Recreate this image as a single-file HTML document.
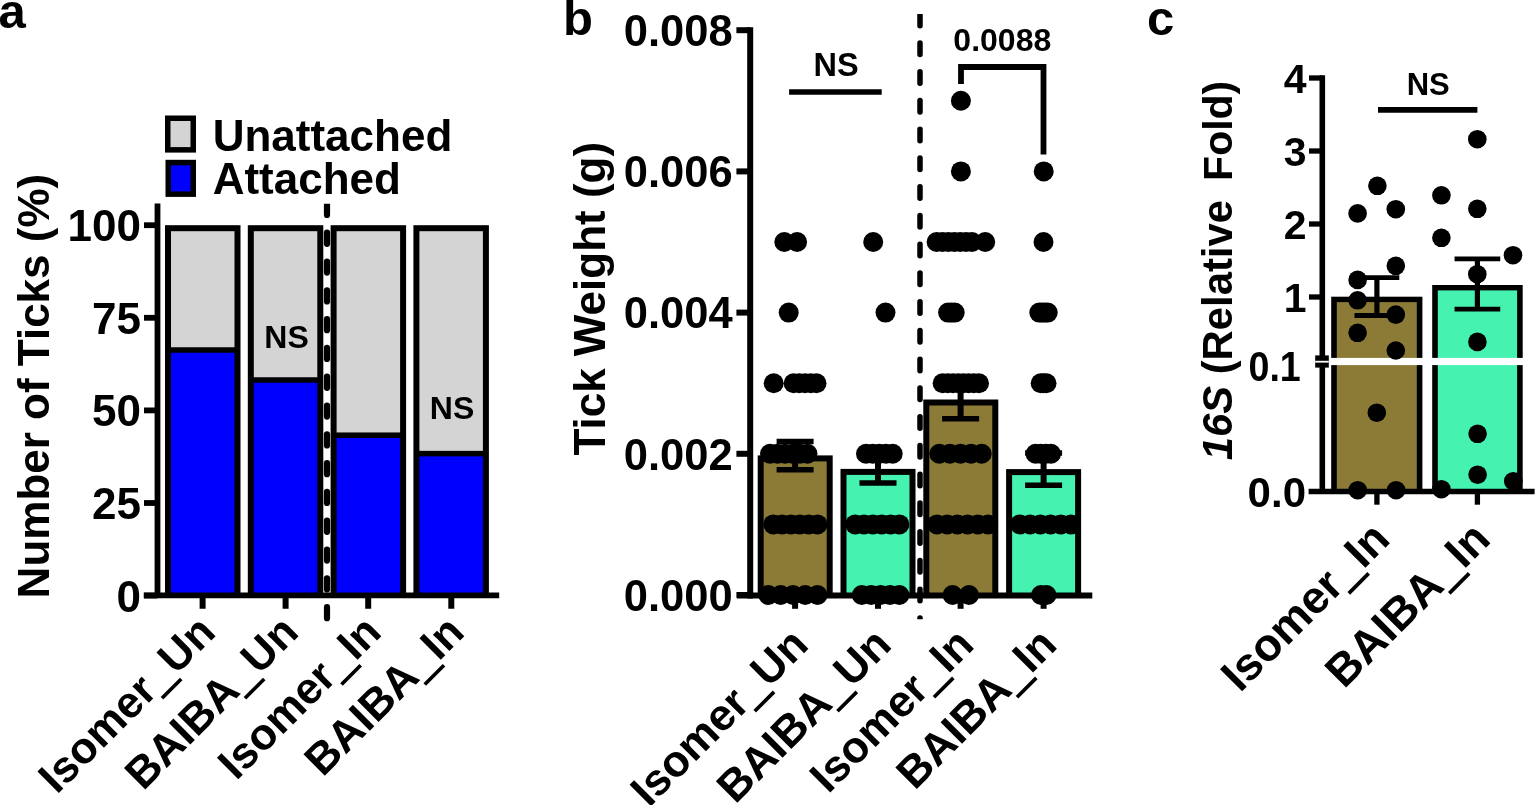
<!DOCTYPE html>
<html><head><meta charset="utf-8"><title>Figure</title>
<style>html,body{margin:0;padding:0;background:#fff;} svg{display:block;} text{fill:#000;}</style>
</head><body>
<svg width="1536" height="805" viewBox="0 0 1536 805" style="font-family:&quot;Liberation Sans&quot;,Arial,sans-serif;font-weight:bold">
<text x="-1.5" y="28" font-size="49" text-anchor="start" >a</text>
<rect x="167.75" y="118.25" width="25.5" height="31.6" fill="#d4d4d4" stroke="#000" stroke-width="5.5"/>
<rect x="168.25" y="162.55" width="25" height="31.6" fill="#0000ff" stroke="#000" stroke-width="5.5"/>
<text x="212.7" y="150.6" font-size="44" text-anchor="start" >Unattached</text>
<text x="212.7" y="194.4" font-size="44" text-anchor="start" >Attached</text>
<text transform="translate(49,598.4) rotate(-90)" font-size="44">Number of Ticks (%)</text>
<rect x="165.00" y="225.20" width="75.50" height="369.80" fill="#000"/>
<rect x="171.00" y="231.20" width="63.50" height="116.05" fill="#d4d4d4"/>
<rect x="171.00" y="352.75" width="63.50" height="242.25" fill="#0000ff"/>
<rect x="247.80" y="225.20" width="75.50" height="369.80" fill="#000"/>
<rect x="253.80" y="231.20" width="63.50" height="146.05" fill="#d4d4d4"/>
<rect x="253.80" y="382.75" width="63.50" height="212.25" fill="#0000ff"/>
<rect x="330.60" y="225.20" width="75.50" height="369.80" fill="#000"/>
<rect x="336.60" y="231.20" width="63.50" height="201.25" fill="#d4d4d4"/>
<rect x="336.60" y="437.95" width="63.50" height="157.05" fill="#0000ff"/>
<rect x="413.40" y="225.20" width="75.50" height="369.80" fill="#000"/>
<rect x="419.40" y="231.20" width="63.50" height="219.65" fill="#d4d4d4"/>
<rect x="419.40" y="456.35" width="63.50" height="138.65" fill="#0000ff"/>
<line x1="157.5" y1="203.5" x2="157.5" y2="598" stroke="#000" stroke-width="5.8" stroke-linecap="butt"/>
<line x1="144" y1="595.6" x2="157.5" y2="595.6" stroke="#000" stroke-width="5.8" stroke-linecap="butt"/>
<text x="141" y="611.6" font-size="44" text-anchor="end" >0</text>
<line x1="144" y1="503.0" x2="157.5" y2="503.0" stroke="#000" stroke-width="5.8" stroke-linecap="butt"/>
<text x="141" y="519.0" font-size="44" text-anchor="end" >25</text>
<line x1="144" y1="410.4" x2="157.5" y2="410.4" stroke="#000" stroke-width="5.8" stroke-linecap="butt"/>
<text x="141" y="426.4" font-size="44" text-anchor="end" >50</text>
<line x1="144" y1="317.8" x2="157.5" y2="317.8" stroke="#000" stroke-width="5.8" stroke-linecap="butt"/>
<text x="141" y="333.8" font-size="44" text-anchor="end" >75</text>
<line x1="144" y1="225.2" x2="157.5" y2="225.2" stroke="#000" stroke-width="5.8" stroke-linecap="butt"/>
<text x="141" y="241.2" font-size="44" text-anchor="end" >100</text>
<line x1="143.75" y1="595.3" x2="499.2" y2="595.3" stroke="#000" stroke-width="5.7" stroke-linecap="butt"/>
<line x1="202.6" y1="595" x2="202.6" y2="608.75" stroke="#000" stroke-width="6" stroke-linecap="butt"/>
<line x1="285.6" y1="595" x2="285.6" y2="608.75" stroke="#000" stroke-width="6" stroke-linecap="butt"/>
<line x1="368.2" y1="595" x2="368.2" y2="608.75" stroke="#000" stroke-width="6" stroke-linecap="butt"/>
<line x1="451.3" y1="595" x2="451.3" y2="608.75" stroke="#000" stroke-width="6" stroke-linecap="butt"/>
<text x="286.5" y="348.3" font-size="32" text-anchor="middle" >NS</text>
<text x="452" y="418.5" font-size="32" text-anchor="middle" >NS</text>
<clipPath id="ca"><rect x="300" y="203.7" width="60" height="430"/></clipPath>
<line x1="327" y1="203.9" x2="327" y2="618.2" stroke="#000" stroke-width="6.2" stroke-linecap="round" stroke-dasharray="11.1 17.7" clip-path="url(#ca)"/>
<text transform="translate(217.6,634.2) rotate(-45)" font-size="44" text-anchor="end">Isomer<tspan dy="1.5" stroke="#000" stroke-width="2">_</tspan><tspan dy="-1.5">Un</tspan></text>
<text transform="translate(300.6,634.2) rotate(-45)" font-size="44" text-anchor="end">BAIBA<tspan dy="1.5" stroke="#000" stroke-width="2">_</tspan><tspan dy="-1.5">Un</tspan></text>
<text transform="translate(383.2,634.2) rotate(-45)" font-size="44" text-anchor="end">Isomer<tspan dy="1.5" stroke="#000" stroke-width="2">_</tspan><tspan dy="-1.5">In</tspan></text>
<text transform="translate(466.3,634.2) rotate(-45)" font-size="44" text-anchor="end">BAIBA<tspan dy="1.5" stroke="#000" stroke-width="2">_</tspan><tspan dy="-1.5">In</tspan></text>
<text x="563" y="34.5" font-size="49" text-anchor="start" >b</text>
<text transform="translate(605.3,455.6) rotate(-90)" font-size="44">Tick Weight (g)</text>
<rect x="757.70" y="455.40" width="75.00" height="139.60" fill="#000"/>
<rect x="763.70" y="461.40" width="63.00" height="133.60" fill="#8b7b36"/>
<rect x="840.50" y="468.90" width="75.00" height="126.10" fill="#000"/>
<rect x="846.50" y="474.90" width="63.00" height="120.10" fill="#45f2b0"/>
<rect x="923.30" y="399.50" width="75.00" height="195.50" fill="#000"/>
<rect x="929.30" y="405.50" width="63.00" height="189.50" fill="#8b7b36"/>
<rect x="1006.10" y="469.10" width="75.00" height="125.90" fill="#000"/>
<rect x="1012.10" y="475.10" width="63.00" height="119.90" fill="#45f2b0"/>
<line x1="795.1" y1="441.4" x2="795.1" y2="469.85" stroke="#000" stroke-width="6" stroke-linecap="butt"/>
<line x1="776.6" y1="441.4" x2="813.6" y2="441.4" stroke="#000" stroke-width="5.5" stroke-linecap="butt"/>
<line x1="776.6" y1="469.85" x2="813.6" y2="469.85" stroke="#000" stroke-width="5.5" stroke-linecap="butt"/>
<line x1="878" y1="454.7" x2="878" y2="483.1" stroke="#000" stroke-width="6" stroke-linecap="butt"/>
<line x1="859.5" y1="454.7" x2="896.5" y2="454.7" stroke="#000" stroke-width="5.5" stroke-linecap="butt"/>
<line x1="859.5" y1="483.1" x2="896.5" y2="483.1" stroke="#000" stroke-width="5.5" stroke-linecap="butt"/>
<line x1="960.6" y1="380.3" x2="960.6" y2="418.7" stroke="#000" stroke-width="6" stroke-linecap="butt"/>
<line x1="942.1" y1="380.3" x2="979.1" y2="380.3" stroke="#000" stroke-width="5.5" stroke-linecap="butt"/>
<line x1="942.1" y1="418.7" x2="979.1" y2="418.7" stroke="#000" stroke-width="5.5" stroke-linecap="butt"/>
<line x1="1043.6" y1="453.1" x2="1043.6" y2="485.15" stroke="#000" stroke-width="6" stroke-linecap="butt"/>
<line x1="1025.1" y1="453.1" x2="1062.1" y2="453.1" stroke="#000" stroke-width="5.5" stroke-linecap="butt"/>
<line x1="1025.1" y1="485.15" x2="1062.1" y2="485.15" stroke="#000" stroke-width="5.5" stroke-linecap="butt"/>
<line x1="750.2" y1="27.3" x2="750.2" y2="598.6" stroke="#000" stroke-width="6" stroke-linecap="butt"/>
<line x1="736.4" y1="595.0" x2="750.2" y2="595.0" stroke="#000" stroke-width="6" stroke-linecap="butt"/>
<text x="732.7" y="610.8" font-size="43.5" text-anchor="end" >0.000</text>
<line x1="736.4" y1="453.8" x2="750.2" y2="453.8" stroke="#000" stroke-width="6" stroke-linecap="butt"/>
<text x="732.7" y="469.6" font-size="43.5" text-anchor="end" >0.002</text>
<line x1="736.4" y1="312.6" x2="750.2" y2="312.6" stroke="#000" stroke-width="6" stroke-linecap="butt"/>
<text x="732.7" y="328.4" font-size="43.5" text-anchor="end" >0.004</text>
<line x1="736.4" y1="171.4" x2="750.2" y2="171.4" stroke="#000" stroke-width="6" stroke-linecap="butt"/>
<text x="732.7" y="187.2" font-size="43.5" text-anchor="end" >0.006</text>
<line x1="736.4" y1="30.2" x2="750.2" y2="30.2" stroke="#000" stroke-width="6" stroke-linecap="butt"/>
<text x="732.7" y="46.0" font-size="43.5" text-anchor="end" >0.008</text>
<line x1="737" y1="595.6" x2="1092.3" y2="595.6" stroke="#000" stroke-width="6" stroke-linecap="butt"/>
<line x1="795.1" y1="595" x2="795.1" y2="608.8" stroke="#000" stroke-width="6" stroke-linecap="butt"/>
<line x1="878" y1="595" x2="878" y2="608.8" stroke="#000" stroke-width="6" stroke-linecap="butt"/>
<line x1="960.6" y1="595" x2="960.6" y2="608.8" stroke="#000" stroke-width="6" stroke-linecap="butt"/>
<line x1="1043.6" y1="595" x2="1043.6" y2="608.8" stroke="#000" stroke-width="6" stroke-linecap="butt"/>
<circle cx="768.4" cy="595.0" r="10"/>
<circle cx="780.7" cy="595.0" r="10"/>
<circle cx="793.0" cy="595.0" r="10"/>
<circle cx="805.2" cy="595.0" r="10"/>
<circle cx="817.5" cy="595.0" r="10"/>
<circle cx="773.3" cy="524.4" r="10"/>
<circle cx="782.1" cy="524.4" r="10"/>
<circle cx="791.0" cy="524.4" r="10"/>
<circle cx="799.8" cy="524.4" r="10"/>
<circle cx="808.7" cy="524.4" r="10"/>
<circle cx="817.5" cy="524.4" r="10"/>
<circle cx="770.0" cy="453.8" r="10"/>
<circle cx="777.5" cy="453.8" r="10"/>
<circle cx="785.0" cy="453.8" r="10"/>
<circle cx="792.5" cy="453.8" r="10"/>
<circle cx="800.0" cy="453.8" r="10"/>
<circle cx="807.5" cy="453.8" r="10"/>
<circle cx="773.7" cy="383.2" r="10"/>
<circle cx="793.6" cy="383.2" r="10"/>
<circle cx="799.3" cy="383.2" r="10"/>
<circle cx="805.0" cy="383.2" r="10"/>
<circle cx="810.8" cy="383.2" r="10"/>
<circle cx="816.5" cy="383.2" r="10"/>
<circle cx="788.7" cy="312.6" r="10"/>
<circle cx="784.3" cy="242.0" r="10"/>
<circle cx="797.1" cy="242.0" r="10"/>
<circle cx="861.8" cy="595.0" r="10"/>
<circle cx="871.2" cy="595.0" r="10"/>
<circle cx="880.6" cy="595.0" r="10"/>
<circle cx="890.0" cy="595.0" r="10"/>
<circle cx="899.4" cy="595.0" r="10"/>
<circle cx="855.2" cy="524.4" r="10"/>
<circle cx="864.0" cy="524.4" r="10"/>
<circle cx="872.9" cy="524.4" r="10"/>
<circle cx="881.7" cy="524.4" r="10"/>
<circle cx="890.6" cy="524.4" r="10"/>
<circle cx="899.4" cy="524.4" r="10"/>
<circle cx="866.0" cy="453.8" r="10"/>
<circle cx="872.7" cy="453.8" r="10"/>
<circle cx="879.4" cy="453.8" r="10"/>
<circle cx="886.0" cy="453.8" r="10"/>
<circle cx="892.7" cy="453.8" r="10"/>
<circle cx="885.5" cy="312.6" r="10"/>
<circle cx="873.2" cy="242.0" r="10"/>
<circle cx="952.6" cy="595.0" r="10"/>
<circle cx="969.0" cy="595.0" r="10"/>
<circle cx="937.0" cy="524.4" r="10"/>
<circle cx="947.2" cy="524.4" r="10"/>
<circle cx="957.4" cy="524.4" r="10"/>
<circle cx="967.6" cy="524.4" r="10"/>
<circle cx="977.8" cy="524.4" r="10"/>
<circle cx="988.0" cy="524.4" r="10"/>
<circle cx="939.3" cy="453.8" r="10"/>
<circle cx="949.9" cy="453.8" r="10"/>
<circle cx="960.5" cy="453.8" r="10"/>
<circle cx="971.1" cy="453.8" r="10"/>
<circle cx="981.7" cy="453.8" r="10"/>
<circle cx="942.6" cy="383.2" r="10"/>
<circle cx="947.8" cy="383.2" r="10"/>
<circle cx="953.0" cy="383.2" r="10"/>
<circle cx="958.2" cy="383.2" r="10"/>
<circle cx="963.4" cy="383.2" r="10"/>
<circle cx="968.6" cy="383.2" r="10"/>
<circle cx="973.8" cy="383.2" r="10"/>
<circle cx="979.0" cy="383.2" r="10"/>
<circle cx="948.1" cy="312.6" r="10"/>
<circle cx="951.4" cy="312.6" r="10"/>
<circle cx="954.7" cy="312.6" r="10"/>
<circle cx="936.6" cy="242.0" r="10"/>
<circle cx="942.5" cy="242.0" r="10"/>
<circle cx="948.4" cy="242.0" r="10"/>
<circle cx="954.3" cy="242.0" r="10"/>
<circle cx="960.2" cy="242.0" r="10"/>
<circle cx="966.1" cy="242.0" r="10"/>
<circle cx="972.0" cy="242.0" r="10"/>
<circle cx="985.2" cy="242.0" r="10"/>
<circle cx="960.9" cy="171.4" r="10"/>
<circle cx="960.9" cy="100.8" r="10"/>
<circle cx="1041.0" cy="595.0" r="10"/>
<circle cx="1046.5" cy="595.0" r="10"/>
<circle cx="1020.0" cy="524.4" r="10"/>
<circle cx="1030.2" cy="524.4" r="10"/>
<circle cx="1040.4" cy="524.4" r="10"/>
<circle cx="1050.6" cy="524.4" r="10"/>
<circle cx="1060.8" cy="524.4" r="10"/>
<circle cx="1071.0" cy="524.4" r="10"/>
<circle cx="1035.6" cy="453.8" r="10"/>
<circle cx="1040.7" cy="453.8" r="10"/>
<circle cx="1045.9" cy="453.8" r="10"/>
<circle cx="1051.0" cy="453.8" r="10"/>
<circle cx="1040.7" cy="383.2" r="10"/>
<circle cx="1043.6" cy="383.2" r="10"/>
<circle cx="1046.5" cy="383.2" r="10"/>
<circle cx="1039.3" cy="312.6" r="10"/>
<circle cx="1042.1" cy="312.6" r="10"/>
<circle cx="1044.9" cy="312.6" r="10"/>
<circle cx="1047.7" cy="312.6" r="10"/>
<circle cx="1043.5" cy="242.0" r="10"/>
<circle cx="1043.7" cy="171.4" r="10"/>
<clipPath id="cb"><rect x="900" y="13.9" width="40" height="605.3"/></clipPath>
<line x1="920" y1="14.3" x2="920" y2="625" stroke="#000" stroke-width="5.5" stroke-linecap="round" stroke-dasharray="11.5 17.25" clip-path="url(#cb)"/>
<line x1="789.1" y1="92" x2="881.7" y2="92" stroke="#000" stroke-width="5.7" stroke-linecap="butt"/>
<text x="836.1" y="76.2" font-size="32.5" text-anchor="middle" >NS</text>
<path d="M961,84 V67 H1043.5 V154.6" fill="none" stroke="#000" stroke-width="5.8"/>
<text x="1002.3" y="51" font-size="32" text-anchor="middle" >0.0088</text>
<text transform="translate(810.4,646.8) rotate(-45)" font-size="44.2" text-anchor="end">Isomer<tspan dy="1.5" stroke="#000" stroke-width="2">_</tspan><tspan dy="-1.5">Un</tspan></text>
<text transform="translate(893.3,646.8) rotate(-45)" font-size="44.2" text-anchor="end">BAIBA<tspan dy="1.5" stroke="#000" stroke-width="2">_</tspan><tspan dy="-1.5">Un</tspan></text>
<text transform="translate(975.9,646.8) rotate(-45)" font-size="44.2" text-anchor="end">Isomer<tspan dy="1.5" stroke="#000" stroke-width="2">_</tspan><tspan dy="-1.5">In</tspan></text>
<text transform="translate(1058.9,646.8) rotate(-45)" font-size="44.2" text-anchor="end">BAIBA<tspan dy="1.5" stroke="#000" stroke-width="2">_</tspan><tspan dy="-1.5">In</tspan></text>
<text x="1147" y="34.5" font-size="49" text-anchor="start" >c</text>
<text transform="translate(1231.5,460.3) rotate(-90)" font-size="41.8"><tspan font-style="italic">16S</tspan> (Relative</text>
<text transform="translate(1231.5,180.9) rotate(-90)" font-size="41">Fold)</text>
<rect x="1331.20" y="296.70" width="91.20" height="194.30" fill="#000"/>
<rect x="1336.80" y="302.10" width="80.00" height="188.90" fill="#8b7b36"/>
<rect x="1432.20" y="285.00" width="90.50" height="206.00" fill="#000"/>
<rect x="1437.80" y="290.40" width="79.30" height="200.60" fill="#45f2b0"/>
<rect x="1329.00" y="357.90" width="196.00" height="7.20" fill="#fff"/>
<line x1="1376.9" y1="277.7" x2="1376.9" y2="315.5" stroke="#000" stroke-width="5.2" stroke-linecap="butt"/>
<line x1="1354.5" y1="277.7" x2="1399.3000000000002" y2="277.7" stroke="#000" stroke-width="4.8" stroke-linecap="butt"/>
<line x1="1354.5" y1="315.5" x2="1399.3000000000002" y2="315.5" stroke="#000" stroke-width="4.8" stroke-linecap="butt"/>
<line x1="1477.4" y1="258.9" x2="1477.4" y2="309.2" stroke="#000" stroke-width="5.2" stroke-linecap="butt"/>
<line x1="1454.5500000000002" y1="258.9" x2="1500.25" y2="258.9" stroke="#000" stroke-width="4.8" stroke-linecap="butt"/>
<line x1="1454.5500000000002" y1="309.2" x2="1500.25" y2="309.2" stroke="#000" stroke-width="4.8" stroke-linecap="butt"/>
<circle cx="1377.4" cy="185.8" r="9.3"/>
<circle cx="1357.6" cy="213.4" r="9.3"/>
<circle cx="1395.8" cy="209.2" r="9.3"/>
<circle cx="1395.8" cy="265.8" r="9.3"/>
<circle cx="1357.6" cy="279.9" r="9.3"/>
<circle cx="1357.6" cy="300.3" r="9.3"/>
<circle cx="1395.8" cy="314.6" r="9.3"/>
<circle cx="1357.6" cy="332.8" r="9.3"/>
<circle cx="1395.8" cy="350.5" r="9.3"/>
<circle cx="1376.8" cy="412.7" r="9.3"/>
<circle cx="1357.7" cy="490.2" r="9.3"/>
<circle cx="1396.1" cy="490.2" r="9.3"/>
<circle cx="1477.3" cy="139.2" r="9.3"/>
<circle cx="1441.4" cy="195.3" r="9.3"/>
<circle cx="1477.3" cy="208.8" r="9.3"/>
<circle cx="1441.4" cy="237.8" r="9.3"/>
<circle cx="1513.0" cy="255.2" r="9.3"/>
<circle cx="1477.3" cy="274.2" r="9.3"/>
<circle cx="1477.4" cy="341.9" r="9.3"/>
<circle cx="1477.6" cy="433.8" r="9.3"/>
<circle cx="1477.6" cy="474.7" r="9.3"/>
<circle cx="1441.4" cy="489.2" r="9.3"/>
<circle cx="1513.3" cy="481.2" r="9.3"/>
<line x1="1322.3" y1="75.3" x2="1322.3" y2="493.6" stroke="#000" stroke-width="5.6" stroke-linecap="butt"/>
<line x1="1309" y1="78" x2="1322.3" y2="78" stroke="#000" stroke-width="5.3" stroke-linecap="butt"/>
<text x="1306.5" y="93" font-size="41" text-anchor="end" >4</text>
<line x1="1309" y1="151" x2="1322.3" y2="151" stroke="#000" stroke-width="5.3" stroke-linecap="butt"/>
<text x="1306.5" y="166" font-size="41" text-anchor="end" >3</text>
<line x1="1309" y1="224" x2="1322.3" y2="224" stroke="#000" stroke-width="5.3" stroke-linecap="butt"/>
<text x="1306.5" y="239" font-size="41" text-anchor="end" >2</text>
<line x1="1309" y1="297" x2="1322.3" y2="297" stroke="#000" stroke-width="5.3" stroke-linecap="butt"/>
<text x="1306.5" y="312" font-size="41" text-anchor="end" >1</text>
<rect x="1315.20" y="355.40" width="13.60" height="12.20" fill="#000"/>
<rect x="1315.20" y="360.80" width="13.60" height="1.80" fill="#fff"/>
<text x="1300.8" y="380.5" font-size="43" text-anchor="end" textLength="52.3" lengthAdjust="spacingAndGlyphs">0.1</text>
<text x="1306" y="506.8" font-size="42" text-anchor="end" >0.0</text>
<line x1="1308.6" y1="491.4" x2="1534.6" y2="491.4" stroke="#000" stroke-width="5.5" stroke-linecap="butt"/>
<line x1="1376.9" y1="491" x2="1376.9" y2="504.7" stroke="#000" stroke-width="5.3" stroke-linecap="butt"/>
<line x1="1477.4" y1="491" x2="1477.4" y2="504.7" stroke="#000" stroke-width="5.3" stroke-linecap="butt"/>
<line x1="1378" y1="109.8" x2="1477.4" y2="109.8" stroke="#000" stroke-width="5.8" stroke-linecap="butt"/>
<text x="1428.2" y="95" font-size="31" text-anchor="middle" >NS</text>
<text transform="translate(1391.9,541.4) rotate(-45)" font-size="45.5" text-anchor="end">Isomer<tspan dy="1.5" stroke="#000" stroke-width="2">_</tspan><tspan dy="-1.5">In</tspan></text>
<text transform="translate(1492.4,541.4) rotate(-45)" font-size="45.5" text-anchor="end">BAIBA<tspan dy="1.5" stroke="#000" stroke-width="2">_</tspan><tspan dy="-1.5">In</tspan></text>
</svg>
</body></html>
